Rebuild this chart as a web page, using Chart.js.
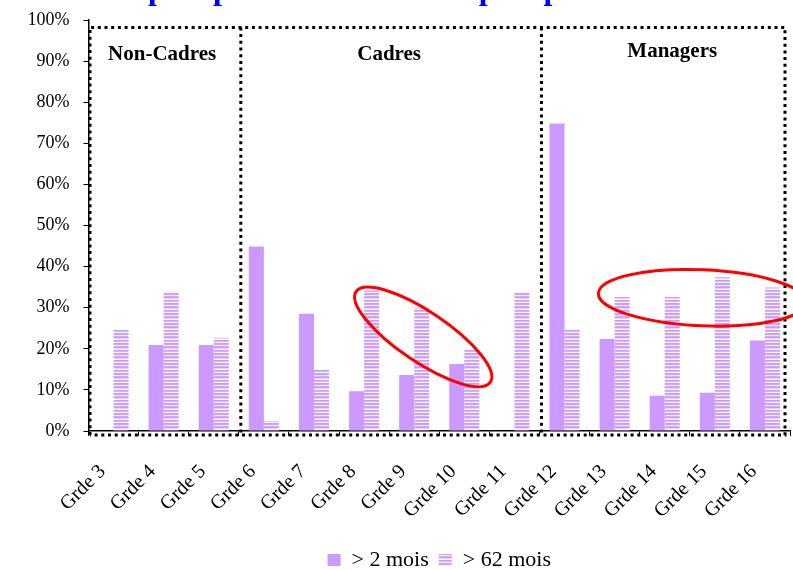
<!DOCTYPE html>
<html>
<head>
<meta charset="utf-8">
<script src="https://cdn.jsdelivr.net/npm/chart.js@4/dist/chart.umd.min.js"></script>
<style>
  html, body { margin: 0; padding: 0; background: #ffffff; overflow: hidden; }
  canvas { display: block; }
</style>
</head>
<body>
<canvas id="chart" width="793" height="570"></canvas>
<script>
// Grades along the x axis
const grades = ['Grde 3', 'Grde 4', 'Grde 5', 'Grde 6', 'Grde 7', 'Grde 8', 'Grde 9',
                'Grde 10', 'Grde 11', 'Grde 12', 'Grde 13', 'Grde 14', 'Grde 15', 'Grde 16'];

// Share of staff (%) per grade
const over2Months  = [0, 20.9, 20.9, 44.9, 28.5, 9.7, 13.6, 16.3, 0, 74.8, 22.4, 8.6, 9.3, 22.0];
const over62Months = [24.8, 33.9, 22.7, 2.4, 15.1, 34.2, 30.0, 19.7, 33.7, 24.8, 32.6, 32.6, 37.4, 34.9];

// Series names
const seriesNames = ['> 2 mois', '> 62 mois'];

// Staff groups: label and index of the first grade of each group
const groupNames  = ['Non-Cadres', 'Cadres', 'Managers'];
const groupStarts = [0, 3, 9];

const titleText = 'depuis plus de 2 mois et depuis plus de 62 mois';

const SERIF = '"Liberation Serif", "Times New Roman", serif';
const LAVENDER = '#cc99ff';

const canvas = document.getElementById('chart');
const ctx = canvas.getContext('2d');

// Horizontal stripe fill for the second series
function stripeFill() {
  const tile = document.createElement('canvas');
  tile.width = 4; tile.height = 10;
  const t = tile.getContext('2d');
  const rows = ['#cc99ff', '#d9b3ff', '#ffffff', '#cc99ff', '#d1a3ff',
                '#f0e6ff', '#d5abff', '#cc99ff', '#e6d1ff', '#ffffff'];
  rows.forEach((col, i) => { t.fillStyle = col; t.fillRect(0, i, 4, 1); });
  return ctx.createPattern(tile, 'repeat');
}

// Dotted frame around the three staff groups, group names, highlight ellipses and title
const decorations = {
  id: 'decorations',
  afterDatasetsDraw(chart) {
    const { ctx, chartArea, scales } = chart;
    const x = scales.x, y = scales.y;
    const half = (x.getPixelForValue(1) - x.getPixelForValue(0)) / 2;

    const left = chartArea.left + 1.5;
    const right = chartArea.right - 5;
    const top = y.getPixelForValue(98.2);
    const bottom = chartArea.bottom + 4;

    ctx.save();
    ctx.strokeStyle = '#000000';
    ctx.lineWidth = 3;
    ctx.setLineDash([3, 3.7]);
    ctx.lineCap = 'butt';
    ctx.beginPath();
    ctx.moveTo(left, bottom); ctx.lineTo(left, top);
    ctx.lineTo(right, top); ctx.lineTo(right, bottom);
    ctx.lineTo(left, bottom);
    groupStarts.slice(1).forEach(idx => {
      const gx = x.getPixelForValue(idx) - half + 2;
      ctx.moveTo(gx, top); ctx.lineTo(gx, bottom);
    });
    ctx.stroke();
    ctx.restore();

    // Group names
    const labelPos = [[0.97, 90.3], [5.5, 90.3], [11.15, 91.0]];
    ctx.save();
    ctx.fillStyle = '#000000';
    ctx.font = 'bold 21px ' + SERIF;
    ctx.textAlign = 'center';
    ctx.textBaseline = 'alphabetic';
    groupNames.forEach((name, i) => {
      ctx.fillText(name, x.getPixelForValue(labelPos[i][0]), y.getPixelForValue(labelPos[i][1]));
    });
    ctx.restore();

    // Red ellipses highlighting the long-tenure bars
    const rings = [
      { cx: 6.18, cy: 22.9, rx: 81, ry: 25, rot: 34 },
      { cx: 11.75, cy: 32.4, rx: 104, ry: 28, rot: 2.5 }
    ];
    ctx.save();
    ctx.strokeStyle = '#ff0000';
    ctx.lineWidth = 3;
    rings.forEach(r => {
      ctx.beginPath();
      ctx.ellipse(x.getPixelForValue(r.cx), y.getPixelForValue(r.cy), r.rx, r.ry,
                  r.rot * Math.PI / 180, 0, Math.PI * 2);
      ctx.stroke();
    });
    ctx.restore();
  },
  afterDraw(chart) {
    const { ctx, chartArea } = chart;
    ctx.save();
    ctx.fillStyle = '#0000ff';
    ctx.font = 'bold 32px ' + SERIF;
    ctx.textAlign = 'center';
    ctx.textBaseline = 'alphabetic';
    ctx.fillText(titleText, (chartArea.left + chartArea.right) / 2 - 5, -1);
    ctx.restore();
  }
};

new Chart(ctx, {
  type: 'bar',
  data: {
    labels: grades,
    datasets: [
      { label: seriesNames[0], data: over2Months, backgroundColor: LAVENDER, borderWidth: 0 },
      { label: seriesNames[1], data: over62Months, backgroundColor: stripeFill(), borderWidth: 0 }
    ]
  },
  options: {
    responsive: false,
    animation: false,
    devicePixelRatio: 1,
    categoryPercentage: 0.6,
    barPercentage: 1.0,
    layout: { padding: { left: 0, right: 3, top: 20, bottom: -11 } },
    plugins: {
      title: { display: false },
      tooltip: { enabled: false },
      legend: {
        position: 'bottom',
        fullSize: false,
        labels: {
          color: '#000000',
          font: { family: SERIF, size: 22 },
          boxWidth: 13,
          boxHeight: 12,
          padding: 10
        }
      }
    },
    scales: {
      x: {
        grid: { display: true, offset: true, drawOnChartArea: false, drawTicks: true,
                tickLength: 5, color: '#000000' },
        border: { display: true, color: '#000000', width: 1.5 },
        ticks: {
          color: '#000000',
          font: { family: SERIF, size: 20 },
          maxRotation: 45, minRotation: 45,
          autoSkip: false,
          padding: 24,
          labelOffset: -11
        },
        afterFit(scale) {
          scale.height = 108;
          scale.paddingLeft = 0;
          scale.paddingRight = 0;
        }
      },
      y: {
        min: 0, max: 100,
        grid: { display: true, drawOnChartArea: false, drawTicks: true,
                tickLength: 5, color: '#000000' },
        border: { display: true, color: '#000000', width: 1.5 },
        ticks: {
          stepSize: 10,
          color: '#000000',
          font: { family: SERIF, size: 18 },
          padding: 14,
          callback: v => v + '%'
        },
        afterFit(scale) {
          scale.width = 88.5;
          scale.paddingTop = 0;
          scale.paddingBottom = 0;
        }
      }
    }
  },
  plugins: [decorations]
});
</script>
</body>
</html>
